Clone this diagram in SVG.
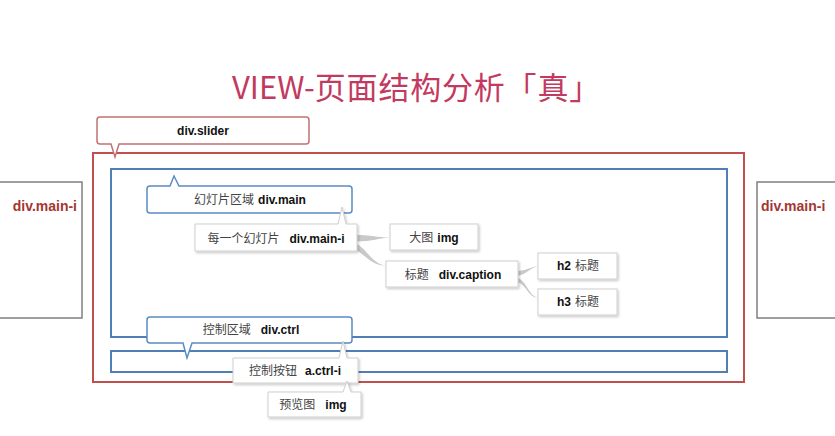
<svg xmlns="http://www.w3.org/2000/svg" width="835" height="436" viewBox="0 0 835 436">
<defs>
<filter id="sh" x="-10%" y="-10%" width="130%" height="140%">
<feDropShadow dx="1.2" dy="1.5" stdDeviation="1" flood-color="#000" flood-opacity="0.22"/>
</filter>
<style>
text{font-family:"Liberation Sans","Noto Sans CJK SC",sans-serif;font-size:12px;text-anchor:middle;dominant-baseline:central}
.cj{fill:#444;font-weight:normal}
.b{fill:#111;font-weight:bold}
.gbox{fill:#fff;stroke:#cfcfcf;stroke-width:1}
.blue{fill:none;stroke:#4f7fb5;stroke-width:2}
.bcall{fill:#fff;stroke:#5a8cc4;stroke-width:1.5}
.side{fill:#fff;stroke:#7f7f7f;stroke-width:1.5}
.sidet{fill:#a33632;font-weight:bold;font-size:14px}
.br{fill:#c9c9c9;stroke:none}
</style>
</defs>
<rect width="835" height="436" fill="#fff"/>
<text x="232" y="85" style="font-family:'Noto Sans CJK SC',sans-serif;font-size:31px;fill:#c23a60;text-anchor:start">VIEW-<tspan letter-spacing="0.8">页面结构分析「真」</tspan></text>

<g id="left-main-i">
<rect class="side" x="-5" y="182" width="87" height="136"/>
<text class="sidet" x="77" y="206" style="text-anchor:end">div.main-i</text>
</g>
<g id="right-main-i">
<rect class="side" x="757" y="182" width="90" height="136"/>
<text class="sidet" x="761" y="206" style="text-anchor:start">div.main-i</text>
</g>

<g id="slider-frame">
<rect x="93" y="153" width="651" height="229" fill="none" stroke="#c0504d" stroke-width="2"/>
</g>
<g id="main-area">
<rect class="blue" x="111" y="169" width="616" height="168"/>
</g>
<g id="ctrl-area">
<rect class="blue" x="111" y="351" width="616" height="21"/>
</g>

<g id="connectors">
<path class="br" d="M357,235 C372,235 376,237.5 390,237.5 C376,238.5 372,241.5 357,241.5 Z"/>
<path class="br" d="M355,243 C368,249 372,265 387,265.5 C371,267 365,253 352,248 Z"/>
<path class="br" d="M517,271 C526,271 529,267 538,266.5 C529,268 526,275 517,276 Z"/>
<path class="br" d="M517,278 C526,279 529,297 538,297.5 C529,298.5 526,284 517,282 Z"/>
</g>

<g id="slider-label">
<path d="M100,117 H306 Q309,117 309,120 V141 Q309,144 306,144 H119 L115,157 L111,144 H100 Q97,144 97,141 V120 Q97,117 100,117 Z" fill="#fff" stroke="#c27272" stroke-width="1.5"/>
<text class="b" x="203" y="130.5">div.slider</text>
</g>

<g id="main-label">
<path d="M150,186 H170 L174,176 L179,186 H349 Q352,186 352,189 V210 Q352,213 349,213 H150 Q147,213 147,210 V189 Q147,186 150,186 Z" class="bcall"/>
<text x="250" y="199.5"><tspan class="cj">幻灯片区域</tspan><tspan class="b" dx="4">div.main</tspan></text>
</g>

<g id="main-i">
<path d="M195,224 H338 L342,207 L346,224 H357 V251 H195 Z" class="gbox" filter="url(#sh)"/>
<text x="276" y="238.5"><tspan class="cj">每一个幻灯片</tspan><tspan class="b" dx="10">div.main-i</tspan></text>
</g>

<g id="img">
<rect class="gbox" x="390" y="224" width="88" height="26" filter="url(#sh)"/>
<text x="434" y="237.5"><tspan class="cj">大图</tspan><tspan class="b" dx="4">img</tspan></text>
</g>

<g id="caption">
<rect class="gbox" x="386" y="261" width="132" height="26" filter="url(#sh)"/>
<text x="453" y="274.5"><tspan class="cj">标题</tspan><tspan class="b" dx="10">div.caption</tspan></text>
</g>

<g id="h2">
<rect class="gbox" x="538" y="253" width="79" height="26" filter="url(#sh)"/>
<text x="578" y="266"><tspan class="b">h2</tspan><tspan class="cj" dx="4">标题</tspan></text>
</g>

<g id="h3">
<rect class="gbox" x="538" y="289" width="79" height="26" filter="url(#sh)"/>
<text x="578" y="302"><tspan class="b">h3</tspan><tspan class="cj" dx="4">标题</tspan></text>
</g>

<g id="ctrl-label">
<path d="M150,317 H349 Q352,317 352,320 V340 Q352,343 349,343 H192 L187,358 L183,343 H150 Q147,343 147,340 V320 Q147,317 150,317 Z" class="bcall"/>
<text x="251" y="330"><tspan class="cj">控制区域</tspan><tspan class="b" dx="10">div.ctrl</tspan></text>
</g>

<g id="ctrl-i">
<path d="M233,358 H339 L343,341 L347,358 H358 V383 H233 Z" class="gbox" filter="url(#sh)"/>
<text x="295" y="371"><tspan class="cj">控制按钮</tspan><tspan class="b" dx="8">a.ctrl-i</tspan></text>
</g>

<g id="preview-img">
<path d="M268,392 H343 L347,381 L351,392 H361 V417 H268 Z" class="gbox" filter="url(#sh)"/>
<text x="313" y="404.5"><tspan class="cj">预览图</tspan><tspan class="b" dx="10">img</tspan></text>
</g>
</svg>
